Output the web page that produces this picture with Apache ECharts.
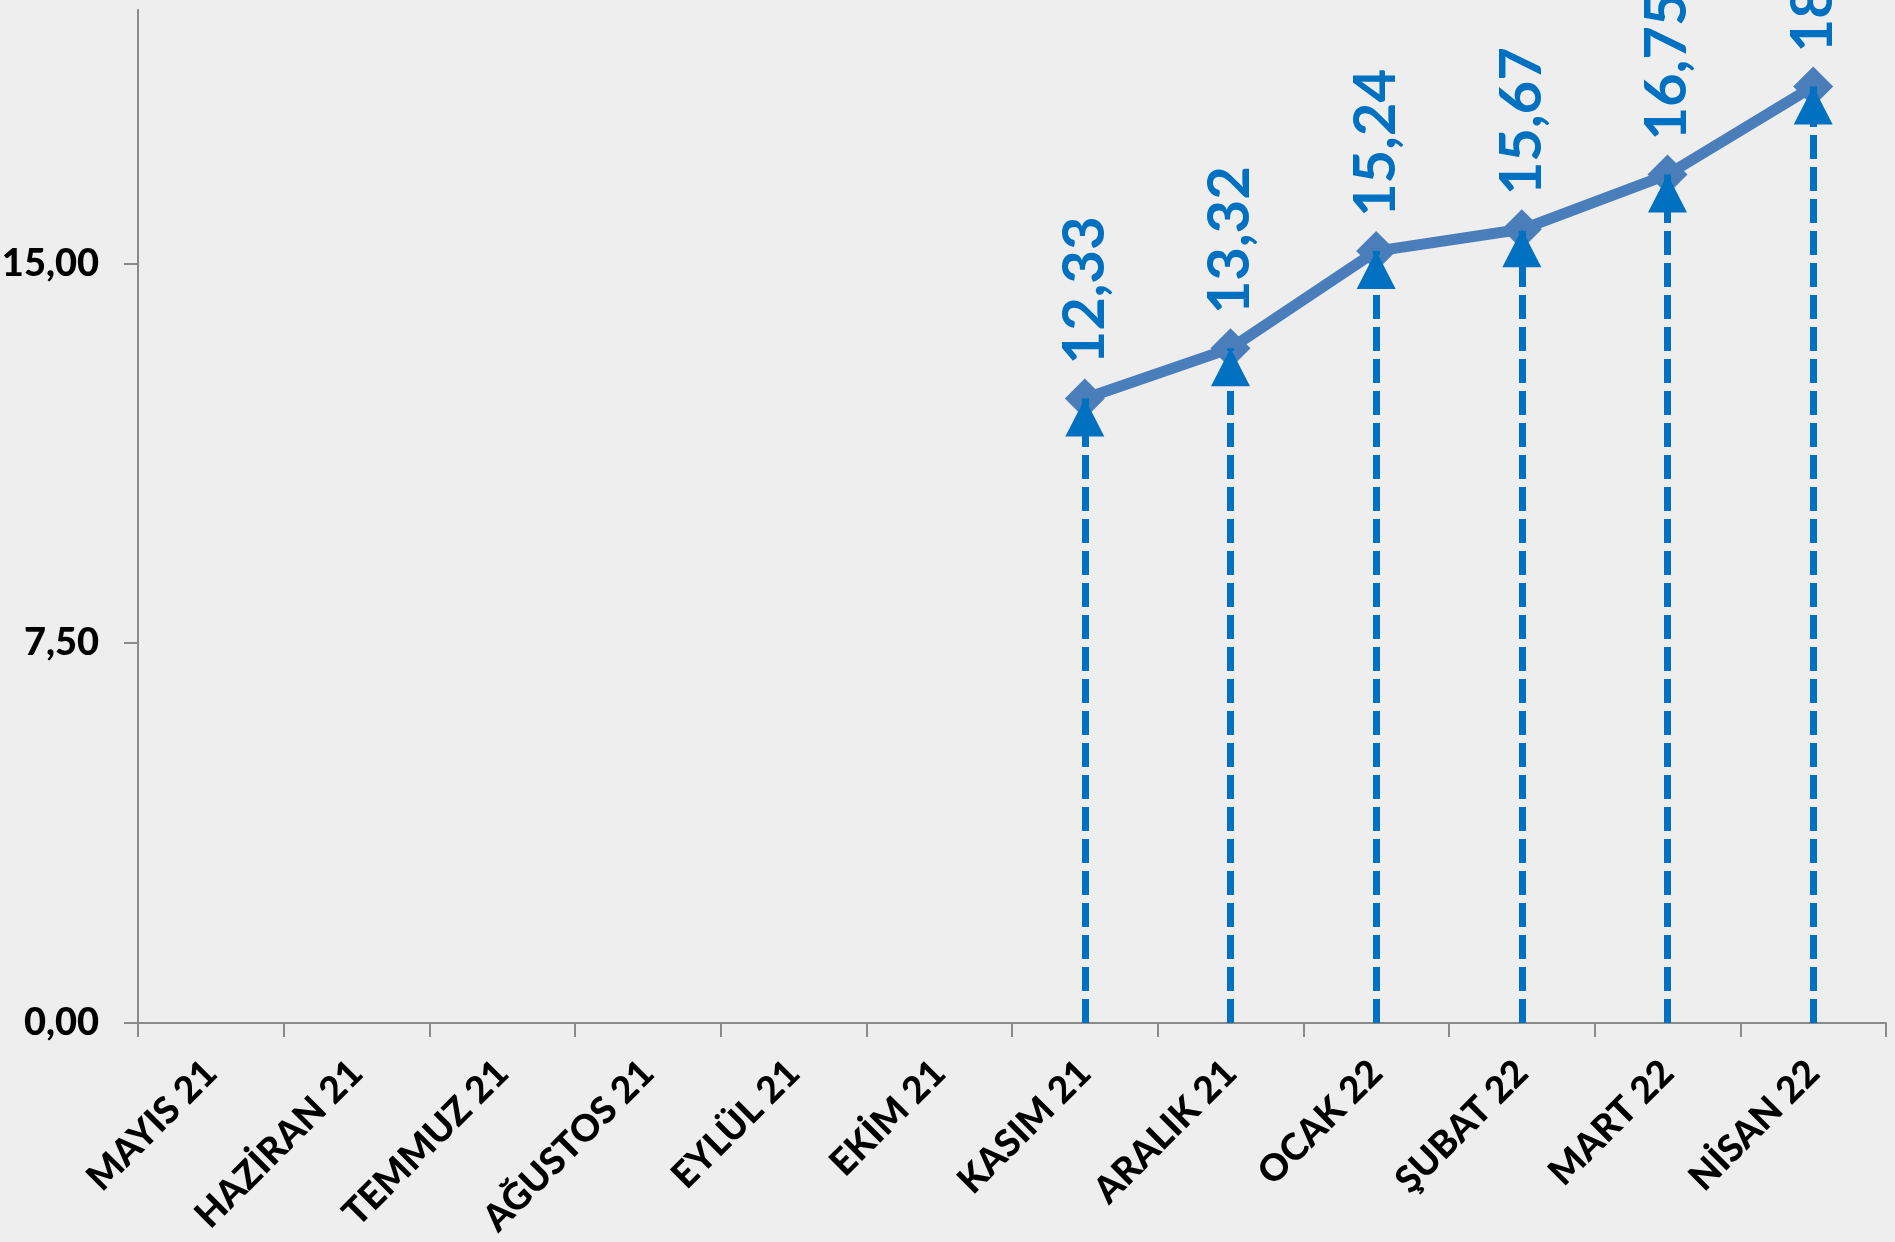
<!DOCTYPE html>
<html>
<head>
<meta charset="utf-8">
<title>Aylık oran</title>
<script src="https://cdn.jsdelivr.net/npm/echarts@6/dist/echarts.min.js"></script>
<style>
    html, body { margin: 0; padding: 0; background: #eeeeee; }
    #chart { width: 1895px; height: 1242px; }
</style>
</head>
<body>
<div id="chart"></div>
<script>
// aylar (x ekseni)
const months = ['MAYIS 21', 'HAZİRAN 21', 'TEMMUZ 21', 'AĞUSTOS 21', 'EYLÜL 21', 'EKİM 21',
    'KASIM 21', 'ARALIK 21', 'OCAK 22', 'ŞUBAT 22', 'MART 22', 'NİSAN 22']
// değerler, ilk altı ay boş
const values = [null, null, null, null, null, null, 12.33, 13.32, 15.24, 15.67, 16.75, 18.49]
// y ekseni etiketleri
const yTicks = [0, 7.5, 15]

const fmt = v => Number(v).toFixed(2).replace('.', ',')

// kesikli oklar: eksenden noktaya
const arrows = []
values.forEach((v, i) => {
    if (v !== null) {
        arrows.push([{ coord: [months[i], 0] }, { coord: [months[i], v] }])
    }
})

const chart = echarts.init(document.getElementById('chart'))
const option = {
    backgroundColor: '#eeeeee',
    animation: false,
    grid: { left: 138, right: 9, top: 10, bottom: 219, outerBoundsMode: 'none' },
    xAxis: {
        type: 'category',
        data: months,
        boundaryGap: true,
        axisLine: { lineStyle: { color: '#8a8a8a', width: 2 } },
        axisTick: { show: true, length: 14, lineStyle: { color: '#8a8a8a', width: 2 } },
        axisLabel: {
            interval: 0,
            rotate: 45,
            margin: 44,
            color: '#000',
            fontFamily: 'Lato',
            fontWeight: 900,
            fontSize: 37
        }
    },
    yAxis: {
        type: 'value',
        min: 0,
        max: 20,
        interval: 7.5,
        splitLine: { show: false },
        axisLine: { show: true, lineStyle: { color: '#8a8a8a', width: 2 } },
        axisTick: { show: true, length: 14, customValues: yTicks, lineStyle: { color: '#8a8a8a', width: 2 } },
        axisLabel: {
            customValues: yTicks,
            margin: 39,
            color: '#000',
            fontFamily: 'Lato',
            fontWeight: 900,
            fontSize: 38,
            formatter: fmt
        }
    },
    series: [
        {
            type: 'line',
            data: values,
            symbol: 'diamond',
            symbolSize: 40,
            itemStyle: { color: '#4a7ebb' },
            lineStyle: { color: '#4a7ebb', width: 11 },
            label: {
                show: true,
                position: 'top',
                rotate: 90,
                align: 'left',
                verticalAlign: 'middle',
                distance: 14,
                color: '#0070c0',
                fontFamily: 'Lato',
                fontWeight: 'bold',
                fontSize: 58,
                formatter: p => fmt(p.value)
            },
            markLine: {
                silent: true,
                z: 5,
                symbol: ['none', 'triangle'],
                symbolSize: [39, 38],
                symbolOffset: [0, [0, 19]],
                label: { show: false },
                lineStyle: { color: '#0070c0', width: 7, type: [24, 8] },
                data: arrows
            }
        }
    ]
}
chart.setOption(option)
</script>
</body>
</html>
